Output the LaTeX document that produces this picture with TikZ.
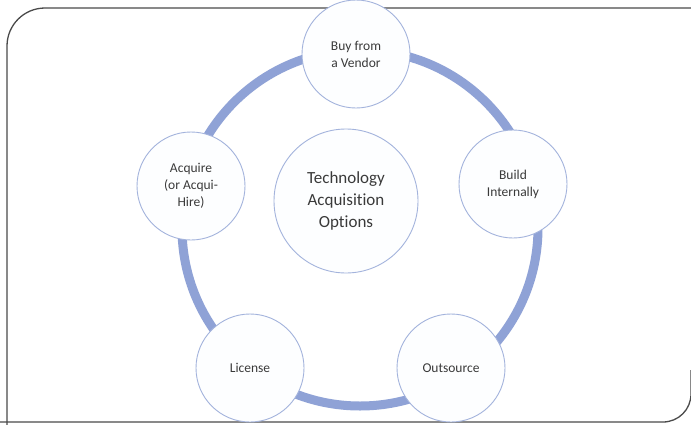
\documentclass[tikz,border=0pt]{standalone}
\usepackage{fontspec}
\setmainfont{Carlito}[Ligatures={NoCommon}]
\definecolor{ringblue}{HTML}{8FA2D6}
\definecolor{nodeedge}{HTML}{A3B3DC}
\definecolor{nodefill}{HTML}{FDFEFF}
\definecolor{txt}{HTML}{3A3A3A}
\definecolor{frame}{HTML}{4A4A4A}
\tikzset{
  option/.style={circle, draw=nodeedge, line width=0.9pt, fill=nodefill, minimum size=108pt, inner sep=0pt, align=center, text=txt, font=\fontsize{13.5}{17}\selectfont},
  hub/.style={circle, draw=nodeedge, line width=0.9pt, fill=nodefill, minimum size=144pt, inner sep=0pt, align=center, text=txt, font=\fontsize{17}{22}\selectfont},
  ringline/.style={draw=ringblue, line width=9pt},
  framebox/.style={draw=frame, line width=1.3pt}
}
\begin{document}
\begin{tikzpicture}[x=1pt, y=-1pt]
\useasboundingbox (0,0) rectangle (691,424);
\fill[white] (0,0) rectangle (691,424);
% frame
\draw[framebox, rounded corners=38pt] (7,440) -- (7,8) -- (720,8);
\draw[framebox, rounded corners=28pt] (-20,422) -- (691,422) -- (691,370);
% ring
\coordinate (rc) at (360,228);
\draw[ringline] (rc) circle[radius=178pt];
% nodes
\node[hub] (hub) at (346,201) {Technology\\Acquisition\\Options};
\node[option] (buy) at (356,54) {Buy from\\a Vendor};
\node[option] (build) at (513,184) {Build\\Internally};
\node[option] (out) at (451,368) {Outsource};
\node[option] (lic) at (250,368) {License};
\node[option] (acq) at (191,186) {Acquire\\(or Acqui-\\Hire)};
\end{tikzpicture}
\end{document}
